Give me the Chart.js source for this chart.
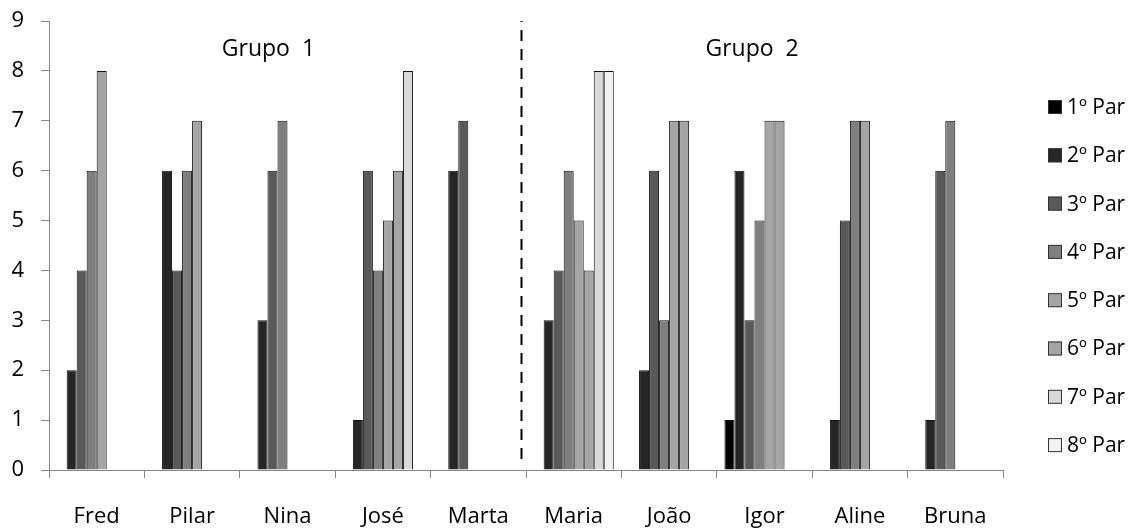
<!DOCTYPE html>
<html>
<head>
<meta charset="utf-8">
<script src="https://cdn.jsdelivr.net/npm/chart.js@4"></script>
<style>
  body { margin: 0; background: #fff; }
  #wrap { width: 1137px; height: 528px; }
</style>
</head>
<body>
<div id="wrap"><canvas id="chart" width="1137" height="528"></canvas></div>
<script>
const categories = ["Fred", "Pilar", "Nina", "José", "Marta", "Maria", "João", "Igor", "Aline", "Bruna"];
const seriesNames = ["1º Par", "2º Par", "3º Par", "4º Par", "5º Par", "6º Par", "7º Par", "8º Par"];
const par1 = [null, null, null, null, null, null, null, 1, null, null];
const par2 = [2, 6, 3, 1, 6, 3, 2, 6, 1, 1];
const par3 = [4, 4, 6, 6, 7, 4, 6, 3, 5, 6];
const par4 = [6, 6, 7, 4, null, 6, 3, 5, 7, 7];
const par5 = [8, 7, null, 5, null, 5, 7, 7, 7, null];
const par6 = [null, null, null, 6, null, 4, 7, 7, null, null];
const par7 = [null, null, null, 8, null, 8, null, null, null, null];
const par8 = [null, null, null, null, null, 8, null, null, null, null];
const yTicks = [0, 1, 2, 3, 4, 5, 6, 7, 8, 9];
const groupLabels = ["Grupo  1", "Grupo  2"];

const seriesData = [par1, par2, par3, par4, par5, par6, par7, par8];
const fills = ["#000000", "#262626", "#595959", "#7f7f7f", "#a5a5a5", "#a5a5a5", "#d9d9d9", "#f2f2f2"];
const FONT = "'Open Sans', sans-serif";

// groups, separator and legend drawn on top of the chart
const extras = {
  id: "extras",
  afterDraw(chart) {
    const ctx = chart.ctx;
    const x = chart.scales.x;
    const y = chart.scales.y;
    ctx.save();

    // dashed separator between Marta and Maria
    const sx = Math.round(x.getPixelForValue(4.45)) + 0.5;
    ctx.strokeStyle = "#000";
    ctx.lineWidth = 2;
    ctx.setLineDash([11, 8]);
    ctx.lineDashOffset = 10;
    ctx.beginPath();
    ctx.moveTo(sx, y.getPixelForValue(9));
    ctx.lineTo(sx, y.getPixelForValue(0.1));
    ctx.stroke();
    ctx.setLineDash([]);

    // group titles
    ctx.fillStyle = "#000";
    ctx.font = "23px " + FONT;
    ctx.textAlign = "center";
    ctx.textBaseline = "middle";
    ctx.fillText(groupLabels[0], x.getPixelForValue(1.8), y.getPixelForValue(8.42));
    ctx.fillText(groupLabels[1], x.getPixelForValue(6.87), y.getPixelForValue(8.42));

    // legend
    ctx.font = "21px " + FONT;
    ctx.textAlign = "left";
    chart.data.datasets.forEach((ds, i) => {
      const cy = 107 + i * 48.3;
      ctx.fillStyle = ds.backgroundColor;
      ctx.fillRect(1048, cy - 7, 14, 14);
      ctx.strokeStyle = "#333";
      ctx.lineWidth = 1;
      ctx.strokeRect(1048.5, cy - 6.5, 13, 13);
      ctx.fillStyle = "#000";
      ctx.fillText(ds.label, 1067, cy + 1);
    });
    ctx.restore();
  }
};

const chart = new Chart(document.getElementById("chart"), {
  type: "bar",
  data: {
    labels: categories,
    datasets: seriesData.map((d, i) => ({
      label: seriesNames[i],
      data: d,
      backgroundColor: fills[i],
      borderColor: "#111",
      borderWidth: 1,
      borderSkipped: "bottom",
      categoryPercentage: 0.84,
      barPercentage: 1.0,
    })),
  },
  options: {
    responsive: false,
    animation: false,
    devicePixelRatio: 1,
    layout: { padding: { top: 21, right: 134, bottom: 0, left: 0 } },
    plugins: {
      legend: { display: false },
      tooltip: { enabled: false },
    },
    scales: {
      x: {
        grid: { display: true, drawOnChartArea: false, offset: true, tickLength: 8, color: "#868686" },
        border: { color: "#868686", width: 1 },
        ticks: { color: "#000", font: { family: FONT, size: 22 }, padding: 26, maxRotation: 0 },
        afterFit(scale) { scale.height = 58; },
      },
      y: {
        min: 0,
        max: 9,
        afterBuildTicks(scale) { scale.ticks = yTicks.map(v => ({ value: v })); },
        grid: { display: true, drawOnChartArea: false, tickLength: 8, color: "#868686" },
        border: { color: "#868686", width: 1 },
        ticks: { color: "#000", font: { family: FONT, size: 22 }, padding: 17 },
        afterFit(scale) {
          scale.width = 49;
          scale.paddingTop = 0;
          scale.paddingBottom = 0;
        },
      },
    },
  },
  plugins: [extras],
});
</script>
</body>
</html>
